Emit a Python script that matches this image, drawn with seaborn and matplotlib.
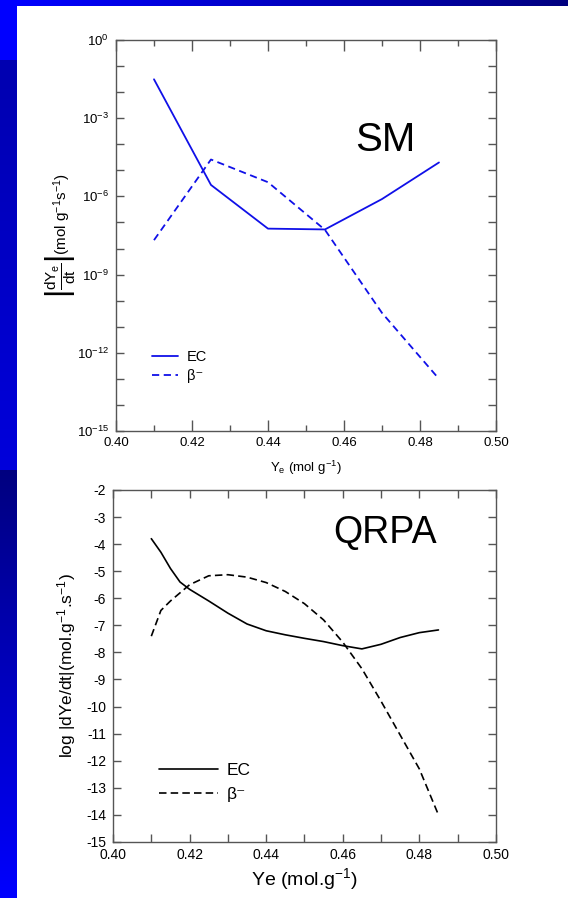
import numpy as np
import pandas as pd
import matplotlib
matplotlib.use("Agg")
import matplotlib.pyplot as plt
import matplotlib.ticker as mticker
import seaborn as sns

# SM (log scale, rates in mol g^-1 s^-1)
ye_sm = [0.410, 0.425, 0.440, 0.455, 0.470, 0.485]
ec_sm = [3.1e-2, 2.75e-6, 5.8e-8, 5.4e-8, 7.9e-7, 2.0e-5]
beta_sm = [2.1e-8, 2.6e-5, 3.5e-6, 5.2e-8, 3.4e-11, 1.0e-13]

# QRPA (log10 of rate)
ye_qrpa = [0.410, 0.4125, 0.415, 0.4175, 0.420, 0.425, 0.430, 0.435, 0.440,
           0.445, 0.450, 0.455, 0.460, 0.465, 0.470, 0.475, 0.480, 0.485]
ec_qrpa = [-3.8, -4.3, -4.9, -5.4, -5.67, -6.1, -6.55, -6.95, -7.2,
           -7.35, -7.48, -7.6, -7.75, -7.87, -7.7, -7.45, -7.27, -7.17]
beta_qrpa = [-7.4, -6.45, -6.1, -5.8, -5.5, -5.17, -5.13, -5.22, -5.42,
             -5.75, -6.2, -6.8, -7.62, -8.6, -9.8, -11.05, -12.3, -14.0]

sns.set_style("ticks")
plt.rcParams['font.family'] = ['Liberation Sans', 'DejaVu Sans']
plt.rcParams['mathtext.fontset'] = 'custom'
plt.rcParams['mathtext.rm'] = 'Liberation Sans'
plt.rcParams['mathtext.it'] = 'Liberation Sans'
for k in ['text.color', 'axes.labelcolor', 'xtick.labelcolor', 'ytick.labelcolor']:
    plt.rcParams[k] = 'black'

W, H = 568, 898
fig = plt.figure(figsize=(W / 100, H / 100), dpi=100)

# slide background: blue strips on the left and top
bg = fig.add_axes([0, 0, 1, 1], zorder=-10)
img = np.ones((H, W, 3))
left = np.zeros((H, 3))
left[:60] = [0, 0, 1.0]
t = np.linspace(0, 1, 410)[:, None]
left[60:470] = (1 - t) * np.array([0, 0, 0.69]) + t * np.array([0, 0, 0.86])
t = np.linspace(0, 1, H - 470)[:, None]
left[470:] = (1 - t) * np.array([0, 0, 0.50]) + t * np.array([0, 0, 1.0])
img[:, :17] = left[:, None, :]
t = np.linspace(0, 1, W - 17)[:, None]
top = (1 - t) * np.array([0, 0, 1.0]) + t * np.array([0, 0, 0.50])
img[:6, 17:] = top[None, :, :]
bg.imshow(img, aspect='auto', interpolation='nearest')
bg.axis('off')

spine_col = '#555555'


def style_axes(ax):
    for s in ax.spines.values():
        s.set_color(spine_col)
        s.set_linewidth(1.0)
    ax.tick_params(which='both', direction='in', top=True, right=True,
                   color=spine_col, width=1.0)


# ---------- SM panel ----------
ax1 = fig.add_axes([0.2042, 0.520, 0.669, 0.4355])
df_sm = pd.DataFrame({"Ye": ye_sm * 2,
                      "rate": ec_sm + beta_sm,
                      "proc": ["EC"] * len(ye_sm) + ["β⁻"] * len(ye_sm)})
sns.lineplot(data=df_sm, x="Ye", y="rate", style="proc", ax=ax1,
             color='#1010e8', linewidth=1.3,
             dashes={"EC": "", "β⁻": (4, 2.5)}, legend=False)
ax1.set_yscale('log')
ax1.set_xlim(0.40, 0.50)
ax1.set_ylim(1e-15, 1e0)
ax1.yaxis.set_major_locator(mticker.FixedLocator([10.0 ** k for k in range(-15, 1, 3)]))
ax1.yaxis.set_minor_locator(mticker.FixedLocator([10.0 ** k for k in range(-15, 1)]))
ax1.yaxis.set_minor_formatter(mticker.NullFormatter())
ax1.xaxis.set_major_locator(mticker.MultipleLocator(0.02))
ax1.xaxis.set_minor_locator(mticker.MultipleLocator(0.01))
ax1.xaxis.set_major_formatter(mticker.FormatStrFormatter('%.2f'))
style_axes(ax1)
ax1.tick_params(axis='x', which='major', length=8)
ax1.tick_params(axis='x', which='minor', length=4)
ax1.tick_params(axis='y', which='both', length=6)
ax1.tick_params(axis='x', labelsize=9.5, pad=4)
ax1.tick_params(axis='y', labelsize=9.5, pad=5)
ax1.set_xlabel(r"Y$_e$ (mol g$^{-1}$)", fontsize=9.5, labelpad=7)
ax1.set_ylabel(r"$\left|\dfrac{dY_e}{dt}\right|$(mol g$^{-1}$s$^{-1}$)",
               fontsize=11, labelpad=0)
h1 = ax1.get_lines()
ax1.legend(h1[:2], ["EC", "β⁻"], frameon=False, fontsize=10.5,
           handlelength=1.8, handletextpad=0.6, labelspacing=0.35,
           loc='lower left', bbox_to_anchor=(0.06, 0.09))
ax1.text(0.71, 0.745, "SM", transform=ax1.transAxes, fontsize=29,
         ha='center', va='center')

# ---------- QRPA panel ----------
ax2 = fig.add_axes([0.199, 0.0624, 0.674, 0.392])
df_q = pd.DataFrame({"Ye": ye_qrpa * 2,
                     "lograte": ec_qrpa + beta_qrpa,
                     "proc": ["EC"] * len(ye_qrpa) + ["β⁻"] * len(ye_qrpa)})
sns.lineplot(data=df_q, x="Ye", y="lograte", style="proc", ax=ax2,
             color='black', linewidth=1.2,
             dashes={"EC": "", "β⁻": (4.5, 2.5)}, legend=False)
ax2.set_xlim(0.40, 0.50)
ax2.set_ylim(-15, -2)
ax2.yaxis.set_major_locator(mticker.MultipleLocator(1))
ax2.xaxis.set_major_locator(mticker.MultipleLocator(0.02))
ax2.xaxis.set_minor_locator(mticker.MultipleLocator(0.01))
ax2.xaxis.set_major_formatter(mticker.FormatStrFormatter('%.2f'))
ax2.yaxis.set_major_formatter(mticker.FuncFormatter(lambda v, p: f"{int(round(v))}"))
style_axes(ax2)
ax2.tick_params(which='both', length=6)
ax2.tick_params(axis='x', labelsize=10, pad=4)
ax2.tick_params(axis='y', labelsize=10, pad=5)
ax2.set_xlabel(r"Ye (mol.g$^{-1}$)", fontsize=14, labelpad=3)
ax2.set_ylabel(r"log |dYe/dt|(mol.g$^{-1}$.s$^{-1}$)", fontsize=12.5, labelpad=6)
h2 = ax2.get_lines()
ax2.legend(h2[:2], ["EC", "β⁻"], frameon=False, fontsize=12.5,
           handlelength=3.4, handletextpad=0.5, labelspacing=0.5,
           loc='lower left', bbox_to_anchor=(0.08, 0.07))
ax2.text(0.71, 0.878, "QRPA", transform=ax2.transAxes, fontsize=27,
         ha='center', va='center')

fig.savefig("out.png", dpi=100)
